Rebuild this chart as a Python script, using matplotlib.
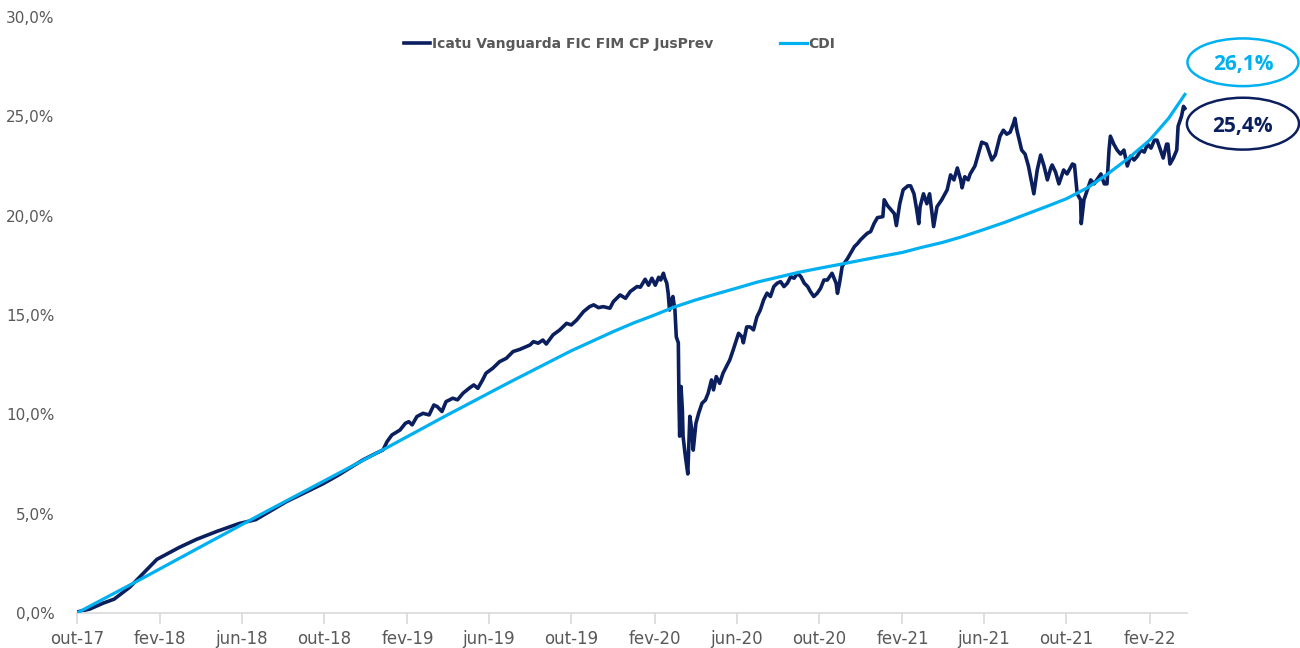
import numpy as np
import pandas as pd
import matplotlib
matplotlib.use("Agg")
import matplotlib.pyplot as plt
from matplotlib.patches import Ellipse

plt.rcParams["font.family"] = ["DejaVu Sans"]

# Data (cumulative return, %)
fund_name = "Icatu Vanguarda FIC FIM CP JusPrev"
cdi_name = "CDI"

fund_dates = [
    # 2017-2018
    "2017-10-01", "2017-10-20", "2017-11-09", "2017-11-25", "2017-12-18", "2018-01-07",
    "2018-01-27", "2018-03-01", "2018-03-26", "2018-04-25", "2018-05-28", "2018-06-22",
    "2018-08-06", "2018-09-29", "2018-10-20", "2018-11-08",
    # 2018-11 .. 2020-01
    "2018-11-27", "2018-12-12", "2018-12-27", "2019-01-02", "2019-01-09", "2019-01-21",
    "2019-01-29", "2019-02-03", "2019-02-08", "2019-02-15", "2019-02-24", "2019-03-05",
    "2019-03-12", "2019-03-17", "2019-03-24", "2019-03-30", "2019-04-09", "2019-04-16",
    "2019-04-24", "2019-05-03", "2019-05-10", "2019-05-16", "2019-05-23", "2019-05-28",
    "2019-06-07", "2019-06-17", "2019-06-27", "2019-07-07", "2019-07-17", "2019-08-01",
    "2019-08-06", "2019-08-13", "2019-08-20", "2019-08-25", "2019-09-04", "2019-09-14",
    "2019-09-24", "2019-10-01", "2019-10-09", "2019-10-19", "2019-10-28", "2019-11-03",
    "2019-11-10", "2019-11-17", "2019-11-27", "2019-12-02", "2019-12-12", "2019-12-20",
    "2019-12-27", "2020-01-06",
    # 2020
    "2020-01-11", "2020-01-18", "2020-01-23", "2020-01-28", "2020-02-02", "2020-02-07",
    "2020-02-10", "2020-02-14", "2020-02-16", "2020-02-19", "2020-02-21", "2020-02-23",
    "2020-02-26", "2020-02-28", "2020-03-02", "2020-03-04", "2020-03-07", "2020-03-08",
    "2020-03-09", "2020-03-11", "2020-03-13", "2020-03-14", "2020-03-17", "2020-03-21",
    "2020-03-23", "2020-03-24", "2020-03-27", "2020-03-29", "2020-04-02", "2020-04-06",
    "2020-04-11", "2020-04-16", "2020-04-20", "2020-04-25", "2020-04-28", "2020-05-02",
    "2020-05-07", "2020-05-12", "2020-05-17", "2020-05-22", "2020-05-27", "2020-06-04",
    "2020-06-09", "2020-06-11", "2020-06-16", "2020-06-21", "2020-06-26", "2020-07-01",
    "2020-07-06", "2020-07-11", "2020-07-16", "2020-07-21", "2020-07-26", "2020-07-31",
    "2020-08-05", "2020-08-10", "2020-08-15", "2020-08-20", "2020-08-25", "2020-08-30",
    "2020-09-04", "2020-09-09", "2020-09-14", "2020-09-18", "2020-09-23", "2020-09-28",
    "2020-10-03", "2020-10-08", "2020-10-13", "2020-10-20", "2020-10-26", "2020-10-28",
    "2020-10-31", "2020-11-04", "2020-11-12", "2020-11-22", "2020-11-27", "2020-12-01",
    "2020-12-06", "2020-12-11",
    # 2020-12 .. 2022-03
    "2020-12-16", "2020-12-21", "2020-12-26", "2021-01-03", "2021-01-05", "2021-01-10",
    "2021-01-15", "2021-01-20", "2021-01-23", "2021-01-28", "2021-02-02", "2021-02-09",
    "2021-02-13", "2021-02-18", "2021-02-22", "2021-02-25", "2021-02-27", "2021-03-04",
    "2021-03-09", "2021-03-13", "2021-03-16", "2021-03-19", "2021-03-24", "2021-03-31",
    "2021-04-08", "2021-04-13", "2021-04-18", "2021-04-23", "2021-04-28", "2021-04-30",
    "2021-05-04", "2021-05-09", "2021-05-12", "2021-05-19", "2021-05-24", "2021-05-29",
    "2021-06-05", "2021-06-13", "2021-06-18", "2021-06-25", "2021-06-30", "2021-07-05",
    "2021-07-10", "2021-07-15", "2021-07-17", "2021-07-20", "2021-07-25", "2021-07-27",
    "2021-08-01", "2021-08-06", "2021-08-14", "2021-08-19", "2021-08-24", "2021-08-29",
    "2021-09-03", "2021-09-08", "2021-09-10", "2021-09-15", "2021-09-20", "2021-09-22",
    "2021-09-27", "2021-10-02", "2021-10-10", "2021-10-13", "2021-10-17", "2021-10-22",
    "2021-10-23", "2021-10-27", "2021-11-01", "2021-11-06", "2021-11-11", "2021-11-21",
    "2021-11-26", "2021-11-30", "2021-12-03", "2021-12-05", "2021-12-10", "2021-12-15",
    "2021-12-20", "2021-12-25", "2021-12-30", "2022-01-04", "2022-01-09", "2022-01-14",
    "2022-01-19", "2022-01-24", "2022-01-29", "2022-02-03", "2022-02-08", "2022-02-12",
    "2022-02-17", "2022-02-21", "2022-02-26", "2022-02-28", "2022-03-03", "2022-03-08",
    "2022-03-13", "2022-03-15", "2022-03-20", "2022-03-23", "2022-03-25",
]
fund_vals = [
    0.05, 0.2, 0.5, 0.7, 1.3, 2.0,
    2.7, 3.3, 3.7, 4.1, 4.5, 4.7,
    5.6, 6.5, 6.9, 7.3,
    7.7, 7.96, 8.21, 8.63, 8.96, 9.21,
    9.55, 9.63, 9.47, 9.89, 10.05, 9.97,
    10.47, 10.39, 10.14, 10.64, 10.81, 10.73,
    11.06, 11.31, 11.48, 11.31, 11.73, 12.07,
    12.32, 12.65, 12.82, 13.16, 13.27, 13.49,
    13.66, 13.58, 13.74, 13.54, 14.0, 14.25,
    14.58, 14.5, 14.75, 15.17, 15.42, 15.51,
    15.37, 15.42, 15.34, 15.67, 16.01, 15.84,
    16.18, 16.43,
    16.4, 16.8, 16.5, 16.85, 16.5, 16.9,
    16.76, 17.1, 16.85, 16.6, 16.1, 15.25,
    15.76, 15.93, 15.25, 13.9, 13.6, 10.6,
    8.9, 11.4, 10.2, 8.9, 8.0, 7.0,
    8.9, 9.9, 9.2, 8.2, 9.55, 10.05,
    10.56, 10.72, 11.06, 11.73, 11.23, 11.9,
    11.56, 12.07, 12.4, 12.74, 13.24, 14.08,
    13.9, 13.6, 14.4, 14.4, 14.25, 14.9,
    15.25, 15.76, 16.1, 15.93, 16.43, 16.6,
    16.68, 16.43, 16.6, 16.93, 16.85, 17.1,
    16.93, 16.6, 16.43, 16.18, 15.93, 16.09,
    16.34, 16.76, 16.76, 17.1, 16.6, 16.09,
    16.6, 17.45, 17.85, 18.44, 18.61, 18.78,
    18.95, 19.11,
    19.2, 19.6, 19.9, 19.95, 20.8, 20.5,
    20.3, 20.1, 19.5, 20.6, 21.3, 21.5,
    21.5, 21.1, 20.3, 19.6, 20.45, 21.1,
    20.6, 21.1, 20.3, 19.45, 20.45, 20.8,
    21.3, 22.05, 21.8, 22.4, 21.8, 21.4,
    21.96, 21.8, 22.1, 22.5, 23.1, 23.7,
    23.6, 22.8, 23.05, 24.0, 24.3, 24.1,
    24.2, 24.65, 24.9, 24.3, 23.6, 23.3,
    23.1, 22.5, 21.1, 22.3, 23.05, 22.5,
    21.8, 22.4, 22.55, 22.2, 21.6, 21.8,
    22.3, 22.1, 22.6, 22.55, 21.1, 20.8,
    19.6, 20.8, 21.3, 21.8, 21.6, 22.1,
    21.6, 21.6, 23.3, 24.0, 23.6, 23.3,
    23.1, 23.3, 22.5, 23.0, 22.8, 23.0,
    23.3, 23.2, 23.6, 23.4, 23.8, 23.8,
    23.3, 22.9, 23.6, 23.6, 22.6, 22.9,
    23.3, 24.5, 25.0, 25.5, 25.4,
]

cdi_dates = [
    "2017-10-01", "2018-01-01", "2018-04-01", "2018-07-01", "2018-10-01", "2019-01-01",
    "2019-04-01", "2019-07-01", "2019-10-01", "2019-12-01", "2020-01-01", "2020-02-01",
    "2020-03-01", "2020-04-01", "2020-05-01", "2020-06-01", "2020-07-01", "2020-08-01",
    "2020-09-01", "2020-10-01", "2020-11-01", "2020-12-01", "2021-01-01", "2021-02-01",
    "2021-03-01", "2021-04-01", "2021-05-01", "2021-06-01", "2021-07-01", "2021-08-01",
    "2021-09-01", "2021-10-01", "2021-11-01", "2021-12-01", "2022-01-01", "2022-02-01",
    "2022-03-01", "2022-03-25",
]
cdi_vals = [
    0.0, 1.66, 3.32, 4.99, 6.65, 8.31,
    9.97, 11.6, 13.2, 14.15, 14.6, 15.0,
    15.4, 15.75, 16.05, 16.35, 16.65, 16.9,
    17.15, 17.35, 17.55, 17.75, 17.95, 18.15,
    18.4, 18.65, 18.95, 19.3, 19.65, 20.05,
    20.45, 20.85, 21.4, 22.1, 22.9, 23.8,
    24.9, 26.1,
]

tick_dates = pd.date_range("2017-10-01", "2022-02-01", freq="4MS")
month_pt = ["jan", "fev", "mar", "abr", "mai", "jun", "jul", "ago", "set", "out", "nov", "dez"]
tick_labels = [f"{month_pt[d.month - 1]}-{d.strftime('%y')}" for d in tick_dates]
y_ticks = [0, 5, 10, 15, 20, 25, 30]

navy = "#0B1F5E"
light = "#00B0F0"
gray = "#595959"

fig = plt.figure(figsize=(13, 6.48), dpi=100)
ax = fig.add_axes([0.0592, 0.054, 0.8538, 0.9198])

fd = pd.to_datetime(fund_dates)
cd = pd.to_datetime(cdi_dates)
ax.plot(fd, fund_vals, color=navy, lw=2.6, label=fund_name, zorder=2, solid_joinstyle="round")
ax.plot(cd, cdi_vals, color=light, lw=2.3, label=cdi_name, zorder=3)

ax.set_xlim(pd.Timestamp("2017-10-01"), pd.Timestamp("2022-03-28"))
ax.set_ylim(0, 30)
ax.set_xticks(tick_dates)
ax.set_xticklabels(tick_labels)
ax.set_yticks(y_ticks)
ax.set_yticklabels([f"{v:.1f}%".replace(".", ",") for v in y_ticks])

for s in ["top", "right", "left"]:
    ax.spines[s].set_visible(False)
ax.spines["bottom"].set_color("#D9D9D9")
ax.spines["bottom"].set_linewidth(1.2)
ax.tick_params(axis="x", colors="#D9D9D9", labelcolor=gray, labelsize=12, length=8, width=1.2, pad=4)
ax.tick_params(axis="y", length=0, labelcolor=gray, labelsize=11, pad=16)

leg = ax.legend(loc="center", bbox_to_anchor=(0.489, 0.955), ncol=2, frameon=False,
                handlelength=1.9, handletextpad=0.15, columnspacing=4.8,
                prop={"size": 10, "weight": "bold"})
for t in leg.get_texts():
    t.set_color(gray)

# end-value callouts
labels = [
    (cdi_vals[-1], light, 1.0505, 0.924, 0.100, 0.080),
    (fund_vals[-1], navy, 1.0505, 0.821, 0.101, 0.087),
]
for val, col, cx, cy, w, h in labels:
    e = Ellipse((cx, cy), w, h, transform=ax.transAxes, fill=False, edgecolor=col,
                lw=1.8, clip_on=False)
    ax.add_patch(e)
    ax.text(cx, cy - 0.004, f"{val:.1f}%".replace(".", ","), transform=ax.transAxes,
            ha="center", va="center", color=col, fontsize=15, fontweight="bold",
            family=["Open Sans", "DejaVu Sans"], clip_on=False)

fig.savefig("out.png", dpi=100)
